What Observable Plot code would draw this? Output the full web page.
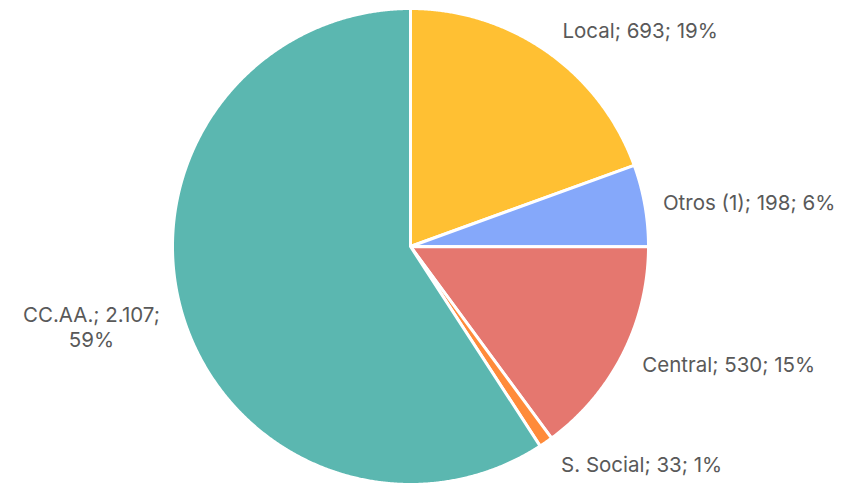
<!DOCTYPE html>
<html><head><meta charset="utf-8">
<script src="https://cdn.jsdelivr.net/npm/d3@7"></script>
<script src="https://cdn.jsdelivr.net/npm/@observablehq/plot@0.6"></script>
<style>body{margin:0;background:#fff;} #chart{width:852px;height:483px;}</style>
</head><body><div id="chart"></div>
<script>
const categories = ["Local", "Otros (1)", "Central", "S. Social", "CC.AA."];
const values = [693, 198, 530, 33, 2107];
const valueLabels = ["693", "198", "530", "33", "2.107"];
const percentLabels = ["19%", "6%", "15%", "1%", "59%"];
const colors = ["#FFC033", "#85A8FA", "#E5776F", "#FF8B3A", "#5BB7B0"];

const W = 852, H = 483, cx = 410, cy = 246, R = 238;
const FONT = 20.5, FAMILY = "Inter";
const arcs = d3.pie().sort(null).value(d => d)(values);

// polygon points for each slice in unit-radius coordinates (angle 0 = top, clockwise)
const pts = [];
arcs.forEach((a, i) => {
  const name = categories[i];
  pts.push({name, x: 0, y: 0});
  const n = Math.max(2, Math.ceil((a.endAngle - a.startAngle) / 0.005));
  for (let k = 0; k <= n; k++) {
    const t = a.startAngle + (a.endAngle - a.startAngle) * k / n;
    pts.push({name, x: Math.sin(t), y: Math.cos(t)});
  }
});

const ctx = document.createElement("canvas").getContext("2d");
ctx.font = `${FONT}px ${FAMILY}`;

const labels = arcs.map((a, i) => {
  const m = (a.startAngle + a.endAngle) / 2;
  const right = Math.sin(m) >= 0;
  const lines = right
    ? [`${categories[i]}; ${valueLabels[i]}; ${percentLabels[i]}`]
    : [`${categories[i]}; ${valueLabels[i]};`, percentLabels[i]];
  const w = d3.max(lines, l => ctx.measureText(l).width);
  const dist = (254 + 13 * lines.length * Math.abs(Math.cos(m))) / R;
  return {
    text: lines.join("\n"),
    x: Math.sin(m) * dist, y: Math.cos(m) * dist,
    dx: right ? w / 2 : -w / 2,
    dy: (lines.length - 1) * 6
  };
});

const plot = Plot.plot({
  width: W, height: H,
  margin: 0,
  x: {domain: [-cx / R, (W - cx) / R], range: [0, W], axis: null},
  y: {domain: [-(H - cy) / R, cy / R], range: [H, 0], axis: null},
  color: {domain: categories, range: colors},
  style: {background: "#fff"},
  marks: [
    Plot.line(pts, {x: "x", y: "y", z: "name", fill: "name", stroke: "#fff", strokeWidth: 3, curve: "linear-closed", strokeLinejoin: "round"}),
    ...labels.map(d => Plot.text([d], {x: "x", y: "y", text: "text", textAnchor: "middle", lineAnchor: "middle", dx: d.dx, dy: d.dy, fontSize: FONT, lineHeight: 1.22, fill: "#595959", fontFamily: FAMILY}))
  ]
});
document.getElementById("chart").appendChild(plot);
</script>
</body></html>
